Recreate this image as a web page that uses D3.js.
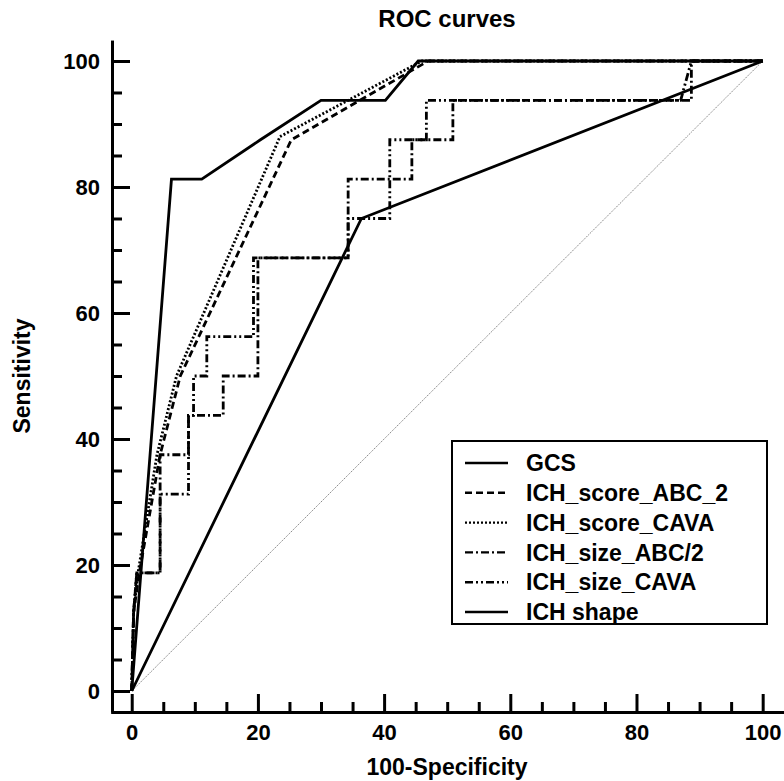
<!DOCTYPE html>
<html>
<head>
<meta charset="utf-8">
<script src="https://cdn.jsdelivr.net/npm/d3@7"></script>
<style>
  body { margin: 0; background: #fff; }
  text { font-family: Arial, "Liberation Sans", sans-serif; font-weight: bold; fill: #000; }
</style>
</head>
<body>
<div id="chart"></div>
<script>
// series names in legend order
const seriesNames = ['GCS', 'ICH_score_ABC_2', 'ICH_score_CAVA', 'ICH_size_ABC/2', 'ICH_size_CAVA', 'ICH shape'];

// [100-Specificity, Sensitivity]
const gcs = [[0, 0], [6.3, 81.25], [11.1, 81.25], [20.4, 87.5], [30, 93.75], [40.2, 93.75], [45.4, 100], [100, 100]];
const scoreAbc = [[0, 0], [0.3, 12.5], [1.2, 18.75], [4.5, 37.5], [7.7, 50], [25.3, 87.5], [47, 100], [100, 100]];
const scoreCava = [[0, 0], [0.3, 12.5], [1, 18.75], [4, 37.5], [7.1, 50], [23.5, 88], [46, 100], [100, 100]];
const sizeAbc = [[0, 0], [0.3, 12.5], [0.8, 18.75], [4.5, 18.75], [4.5, 37.5], [9, 37.5], [9, 43.75], [14.5, 43.75],
  [14.5, 50], [20, 50], [20, 68.75], [34.3, 68.75], [34.3, 81.25], [44.4, 81.25], [44.4, 87.5], [50.9, 87.5],
  [50.9, 93.75], [88.7, 93.75], [88.7, 100], [100, 100]];
const sizeCava = [[0, 0], [0.3, 12.5], [0.8, 18.75], [4.5, 18.75], [4.5, 31.25], [9, 31.25], [9, 43.75], [9.8, 43.75],
  [9.8, 50], [11.9, 50], [11.9, 56.25], [19.3, 56.25], [19.3, 68.75], [34.3, 68.75], [34.3, 75], [40.9, 75],
  [40.9, 87.5], [46.7, 87.5], [46.7, 93.75], [87, 93.75], [88.7, 100], [100, 100]];
const shape = [[0, 0], [36.4, 75], [100, 100]];
const diagonal = [[0, 0], [100, 100]];

const majorTicks = [0, 20, 40, 60, 80, 100];
const minorTicks = [5, 10, 15, 25, 30, 35, 45, 50, 55, 65, 70, 75, 85, 90, 95];

const seriesData = [gcs, scoreAbc, scoreCava, sizeAbc, sizeCava, shape];
const dashes = [null, '7,4', '2,2', '8,3,2,3', '8,3,2,3,2,3', null];

const width = 784, height = 781;
const svg = d3.select('#chart').append('svg')
  .attr('width', width)
  .attr('height', height);

const x = d3.scaleLinear().domain([-3.3, 103.3]).range([110.9, 783.5]);
const y = d3.scaleLinear().domain([-3.3, 103.3]).range([711.8, 40.2]);

// reference diagonal
svg.append('path')
  .datum(diagonal)
  .attr('fill', 'none')
  .attr('stroke', '#888')
  .attr('stroke-width', 1)
  .attr('stroke-dasharray', '1.5,1')
  .attr('d', d3.line().x(d => x(d[0])).y(d => y(d[1])));

const line = d3.line().x(d => x(d[0])).y(d => y(d[1]));

seriesData.forEach((s, i) => {
  svg.append('path')
    .datum(s)
    .attr('fill', 'none')
    .attr('stroke', '#000')
    .attr('stroke-width', 2.8)
    .attr('stroke-linejoin', 'miter')
    .attr('stroke-dasharray', dashes[i])
    .attr('d', line);
});

// axes
const axisX = 712, axisY = 112;

svg.append('g').attr('transform', `translate(0,${axisX})`)
  .call(d3.axisBottom(x).tickValues(majorTicks).tickSize(-18).tickSizeOuter(0).tickPadding(12));
svg.append('g').attr('transform', `translate(0,${axisX})`)
  .call(d3.axisBottom(x).tickValues(minorTicks).tickSize(-10).tickSizeOuter(0).tickFormat(''));

svg.append('g').attr('transform', `translate(${axisY},0)`)
  .call(d3.axisLeft(y).tickValues(majorTicks).tickSize(-18).tickSizeOuter(0).tickPadding(12));
svg.append('g').attr('transform', `translate(${axisY},0)`)
  .call(d3.axisLeft(y).tickValues(minorTicks).tickSize(-10).tickSizeOuter(0).tickFormat(''));

svg.selectAll('.domain, .tick line').attr('stroke', '#000').attr('stroke-width', 3);
svg.selectAll('.tick text')
  .style('font-family', 'Arial, "Liberation Sans", sans-serif')
  .style('font-weight', 'bold')
  .style('font-size', '22px')
  .attr('fill', '#000');

// titles
svg.append('text')
  .attr('x', 447).attr('y', 27)
  .attr('text-anchor', 'middle')
  .style('font-size', '24px')
  .text('ROC curves');

svg.append('text')
  .attr('x', 447).attr('y', 775)
  .attr('text-anchor', 'middle')
  .style('font-size', '23px')
  .text('100-Specificity');

svg.append('text')
  .attr('transform', 'translate(30,376) rotate(-90)')
  .attr('text-anchor', 'middle')
  .style('font-size', '23px')
  .text('Sensitivity');

// legend
const legend = svg.append('g');
legend.append('rect')
  .attr('x', 452).attr('y', 441)
  .attr('width', 315).attr('height', 183)
  .attr('fill', '#fff')
  .attr('stroke', '#000')
  .attr('stroke-width', 2);

seriesNames.forEach((name, i) => {
  const ly = 463 + i * 29.8;
  legend.append('line')
    .attr('x1', 465).attr('x2', 508)
    .attr('y1', ly).attr('y2', ly)
    .attr('stroke', '#000')
    .attr('stroke-width', 2.4)
    .attr('stroke-dasharray', dashes[i]);
  legend.append('text')
    .attr('x', 526).attr('y', ly)
    .attr('dy', '0.36em')
    .style('font-size', '23px')
    .text(name);
});
</script>
</body>
</html>
